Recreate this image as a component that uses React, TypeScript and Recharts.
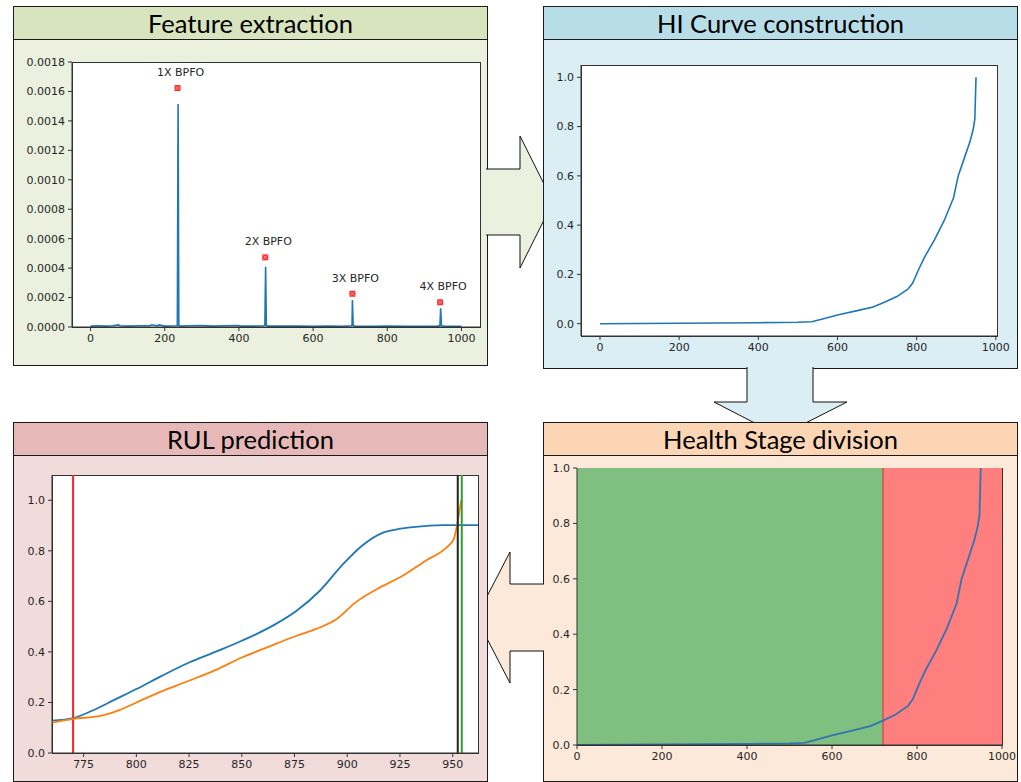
import React from 'react';
import { ComposedChart, LineChart, Line, Scatter, XAxis, YAxis, ReferenceLine, ReferenceArea } from 'recharts';

// --- Feature extraction: envelope spectrum ---
const specFreq = [0, 20, 40, 60, 75, 80, 100, 130, 160, 165, 180, 185, 200, 230, 234, 236, 238, 242, 270, 300, 330, 360, 400, 402, 440, 466, 470, 472, 474, 478, 520, 560, 600, 640, 680, 702, 705, 706, 708, 712, 760, 800, 850, 900, 936, 942, 944, 946, 952, 980, 1000];
const specAmp = [0.000006, 0.000008, 0.000006, 0.000009, 0.000014, 0.000008, 0.000006, 0.000008, 0.000009, 0.000015, 0.000008, 0.000014, 0.000006, 0.000008, 0.00001, 0.001515, 0.00001, 0.000006, 0.000008, 0.000009, 0.000006, 0.000008, 0.00001, 0.000006, 0.000006, 0.000008, 0.000012, 0.00041, 0.000012, 0.000006, 0.000006, 0.000006, 0.000005, 0.000006, 0.000005, 0.000008, 0.000012, 0.000183, 0.000012, 0.000006, 0.000005, 0.000006, 0.000005, 0.000005, 0.000006, 0.00001, 0.000127, 0.00001, 0.000005, 0.000005, 0.000004];
const peakFreq = [234.5, 471, 706, 942.5];
const peakAmp = [0.001623, 0.000473, 0.000226, 0.000168];
const peakLabels = ['1X BPFO', '2X BPFO', '3X BPFO', '4X BPFO'];
const specTicksY = [0, 0.0002, 0.0004, 0.0006, 0.0008, 0.001, 0.0012, 0.0014, 0.0016, 0.0018];
const thousandTicks = [0, 200, 400, 600, 800, 1000];

// --- HI curve ---
const hiX = [0, 100, 200, 300, 400, 500, 535, 560, 600, 650, 690, 720, 750, 778, 790, 805, 820, 845, 870, 893, 905, 920, 935, 943, 947, 950];
const hiY = [0, 0.001, 0.002, 0.003, 0.004, 0.006, 0.008, 0.018, 0.035, 0.053, 0.068, 0.088, 0.11, 0.14, 0.165, 0.22, 0.27, 0.34, 0.42, 0.51, 0.6, 0.67, 0.74, 0.79, 0.83, 1.0];
const unitTicks = [0, 0.2, 0.4, 0.6, 0.8, 1.0];

// --- RUL prediction ---
const rulBlueX = [760, 770, 779, 790, 800, 812, 825, 838, 850, 866, 876, 887, 898, 907, 917, 924, 930, 938, 945, 962];
const rulBlueY = [0.128, 0.138, 0.167, 0.212, 0.253, 0.305, 0.358, 0.402, 0.444, 0.51, 0.563, 0.642, 0.747, 0.82, 0.872, 0.886, 0.893, 0.899, 0.902, 0.902];
const rulOrangeX = [760, 770, 783, 792, 800, 812, 825, 838, 850, 862, 876, 885, 895, 904, 914, 926, 937, 947, 950.5, 952.4, 954];
const rulOrangeY = [0.12, 0.135, 0.147, 0.17, 0.2, 0.244, 0.286, 0.33, 0.378, 0.418, 0.464, 0.49, 0.53, 0.596, 0.648, 0.7, 0.76, 0.813, 0.846, 0.918, 1.0];
const rulTicksX = [775, 800, 825, 850, 875, 900, 925, 950];
const rulStart = 770;
const eolActual = 952.4;
const eolPredicted = 954.3;

// --- Health stage division ---
const stageSplit = 720;

const specData = specFreq.map((x, i) => ({ x, y: specAmp[i] }));
const peakData = peakFreq.map((x, i) => ({ x, y: peakAmp[i], label: peakLabels[i] }));
const hiData = hiX.map((x, i) => ({ x, y: hiY[i] }));
const rulBlue = rulBlueX.map((x, i) => ({ x, y: rulBlueY[i] }));
const rulOrange = rulOrangeX.map((x, i) => ({ x, y: rulOrangeY[i] }));

const tickStyle = { fill: '#262626', fontSize: 11, fontFamily: 'DejaVu Sans' };
const axis = {
  tick: tickStyle,
  tickSize: 4,
  tickMargin: 3,
  axisLine: { stroke: '#333' },
  tickLine: { stroke: '#333' },
};
const fmt1 = (v: number) => v.toFixed(1);

const Panel = ({ x, y, w, h, title, head, body }: any) => (
  <div style={{
    position: 'absolute', left: x, top: y, width: w, height: h, boxSizing: 'border-box',
    border: '1px solid #1a1a1a', background: body
  }}>
    <div style={{
      height: 33, boxSizing: 'border-box', borderBottom: '1px solid #1a1a1a', background: head,
      textAlign: 'center', fontFamily: 'Lato', fontSize: 25.5, lineHeight: '32px', color: '#000'
    }}>{title}</div>
  </div>
);

const PlotBox = ({ x0, y0, x1, y1 }: any) => (
  <div style={{
    position: 'absolute', left: x0, top: y0, width: x1 - x0 + 1, height: y1 - y0 + 1,
    boxSizing: 'border-box', border: '1px solid #333', background: '#fff'
  }} />
);

const Arrow = ({ pts, fill }: any) => (
  <svg width={1021} height={782} style={{ position: 'absolute', left: 0, top: 0, pointerEvents: 'none' }}>
    <polygon points={pts} fill={fill} />
    <polyline points={pts} fill="none" stroke="#111" strokeWidth={1} />
  </svg>
);

const PeakMarker = (props: any) => {
  const { cx, cy, payload } = props;
  return (
    <g>
      <rect x={cx - 3} y={cy - 3} width={6} height={6} fill="#ff2a2a" />
      <path d={`M${cx - 2},${cy - 2}L${cx + 2},${cy + 2}M${cx + 2},${cy - 2}L${cx - 2},${cy + 2}`} stroke="#ffb3b3" strokeWidth={0.8} />
      <text x={cx + 3} y={cy - 12} textAnchor="middle" fontSize={11} fontFamily="DejaVu Sans" fill="#262626">{payload.label}</text>
    </g>
  );
};

const abs = (left: number, top: number) => ({ position: 'absolute' as const, left, top });

export default function App() {
  return (
    <div style={{ position: 'absolute', left: 0, top: 0, width: 1021, height: 782, background: '#fff', overflow: 'hidden' }}>
      <Panel x={13} y={6} w={475} h={360} title="Feature extraction" head="#d7e4bd" body="#ebf1de" />
      <Arrow pts="486,169 520,169 520,136 553,202 520,268 520,235 486,235" fill="#ebf1de" />
      <Panel x={543} y={6} w={475} h={363} title="HI Curve construction" head="#b7dee8" body="#dbeef4" />
      <Arrow pts="747,367 747,402 714,402 780,436 847,402 813,402 813,367" fill="#dbeef4" />
      <Panel x={543} y={422} w={475} h={360} title="Health Stage division" head="#fcd5b5" body="#fde9d9" />
      <Arrow pts="544,584 510,584 510,552 476,617.5 510,683 510,651 544,651" fill="#fde9d9" />
      <Panel x={13} y={422} w={475} h={360} title="RUL prediction" head="#e6b9b8" body="#f2dcdb" />

      <PlotBox x0={72} y0={62} x1={480} y1={327} />
      <PlotBox x0={581} y0={65} x1={997} y1={336} />
      <PlotBox x0={52} y0={475} x1={478} y1={753} />
      <PlotBox x0={577} y0={468} x1={1002} y1={745} />

      {/* Feature extraction */}
      <div style={abs(14, 54)}>
        <ComposedChart width={472} height={297} margin={{ top: 8, right: 6, left: 0, bottom: 0 }}>
          <XAxis {...axis} type="number" dataKey="x" domain={[-50, 1050]} ticks={thousandTicks} height={24} allowDataOverflow />
          <YAxis {...axis} type="number" dataKey="y" domain={[0, 0.0018]} ticks={specTicksY} width={58}
            tickFormatter={(v: number) => v.toFixed(4)} allowDataOverflow />
          <Line data={specData} dataKey="y" type="linear" stroke="#1f77b4" strokeWidth={1.6} dot={false} isAnimationActive={false} />
          <Scatter data={peakData} dataKey="y" shape={PeakMarker} isAnimationActive={false} />
        </ComposedChart>
      </div>

      {/* HI curve construction */}
      <div style={abs(541, 57)}>
        <LineChart width={472} height={303} margin={{ top: 8, right: 16, left: 0, bottom: 0 }}>
          <XAxis {...axis} type="number" dataKey="x" domain={[-48, 1003]} ticks={thousandTicks} height={24} allowDataOverflow />
          <YAxis {...axis} type="number" domain={[-0.05, 1.05]} ticks={unitTicks} width={40} tickFormatter={fmt1} allowDataOverflow />
          <Line data={hiData} dataKey="y" type="linear" stroke="#1f77b4" strokeWidth={1.6} dot={false} isAnimationActive={false} />
        </LineChart>
      </div>

      {/* RUL prediction */}
      <div style={abs(12, 467)}>
        <LineChart width={474} height={310} margin={{ top: 8, right: 8, left: 0, bottom: 0 }}>
          <XAxis {...axis} type="number" dataKey="x" domain={[760, 962]} ticks={rulTicksX} height={24} allowDataOverflow />
          <YAxis {...axis} type="number" domain={[0, 1.1]} ticks={unitTicks} width={40} tickFormatter={fmt1} allowDataOverflow />
          <ReferenceLine x={rulStart} stroke="#ff2020" strokeWidth={2} />
          <Line data={rulBlue} dataKey="y" type="monotone" stroke="#1f77b4" strokeWidth={1.8} dot={false} isAnimationActive={false} />
          <Line data={rulOrange} dataKey="y" type="monotone" stroke="#ff7f0e" strokeWidth={1.8} dot={false} isAnimationActive={false} />
          <ReferenceLine x={eolActual} stroke="#222" strokeWidth={2} />
          <ReferenceLine x={eolPredicted} stroke="#2ca02c" strokeWidth={2} />
        </LineChart>
      </div>

      {/* Health stage division */}
      <div style={abs(537, 460)}>
        <LineChart width={481} height={309} margin={{ top: 8, right: 16, left: 0, bottom: 0 }}>
          <XAxis {...axis} type="number" dataKey="x" domain={[0, 1000]} ticks={thousandTicks} height={24} allowDataOverflow />
          <YAxis {...axis} type="number" domain={[0, 1]} ticks={unitTicks} width={40} tickFormatter={fmt1} allowDataOverflow />
          <ReferenceArea x1={0} x2={stageSplit} y1={0} y2={1} fill="#7fbf7f" fillOpacity={1} stroke="none" />
          <ReferenceArea x1={stageSplit} x2={1000} y1={0} y2={1} fill="#ff7f7f" fillOpacity={1} stroke="none" />
          <ReferenceLine x={stageSplit} stroke="#d9302a" strokeWidth={1} />
          <Line data={hiData} dataKey="y" type="linear" stroke="#3274b0" strokeWidth={1.8} dot={false} isAnimationActive={false} />
        </LineChart>
      </div>
    </div>
  );
}
